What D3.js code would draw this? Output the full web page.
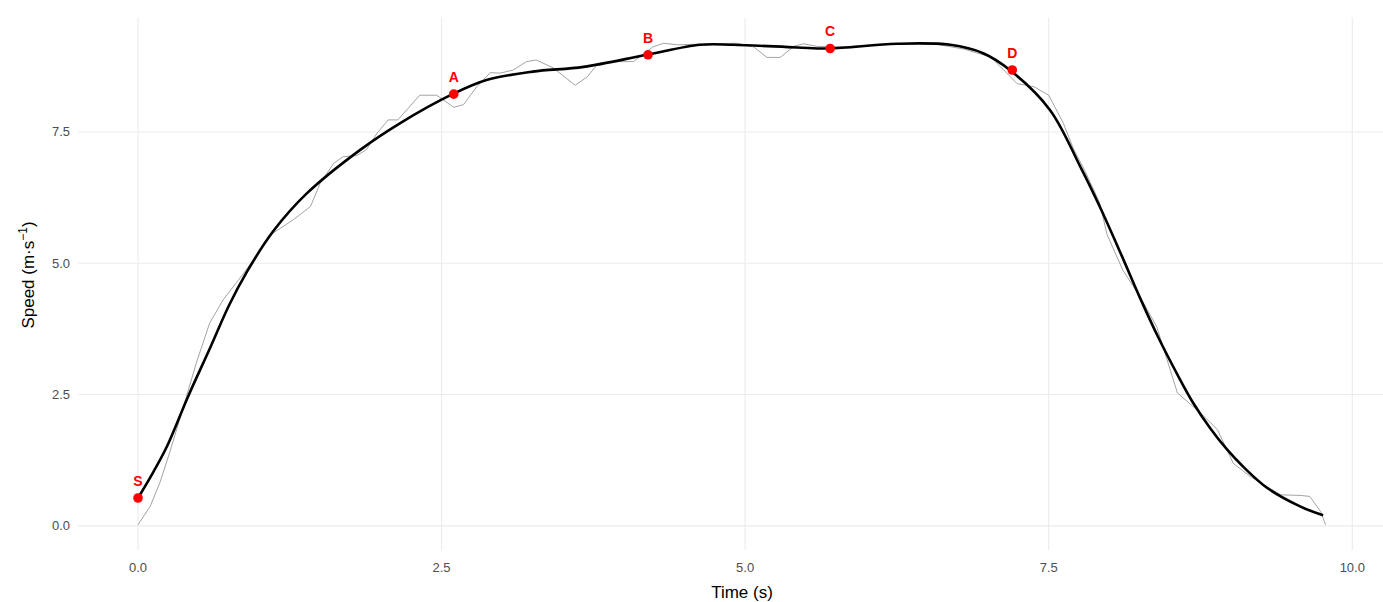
<!DOCTYPE html>
<html>
<head>
<meta charset="utf-8">
<script src="https://cdn.jsdelivr.net/npm/d3@7"></script>
<style>
  body { margin: 0; background: #fff; }
  text { font-family: "Liberation Sans", Arial, sans-serif; }
</style>
</head>
<body>
<div id="chart"></div>
<script>
// raw speed trace (thin grey line)
let rawTime = [0, 0.1, 0.18, 0.26, 0.35, 0.41, 0.48, 0.59, 0.70, 0.87, 1.0, 1.11, 1.28, 1.42, 1.50, 1.61, 1.69, 1.80, 1.88, 1.97,
  2.06, 2.14, 2.32, 2.46, 2.60, 2.68, 2.79, 2.90, 2.98, 3.09, 3.20, 3.28, 3.42, 3.60, 3.70, 3.78, 3.92, 4.08, 4.24, 4.33,
  4.44, 4.93, 5.07, 5.18, 5.29, 5.40, 5.48, 5.59, 5.8, 6.0, 6.2, 6.4, 6.6, 6.8, 7.02, 7.13, 7.24, 7.38, 7.50, 7.62,
  7.70, 7.80, 7.92, 7.98, 8.11, 8.25, 8.39, 8.56, 8.75, 8.89, 9.02, 9.16, 9.41, 9.57, 9.65, 9.74, 9.78];
let rawSpeed = [0.02, 0.37, 0.82, 1.39, 2.08, 2.55, 3.1, 3.86, 4.30, 4.81, 5.22, 5.57, 5.83, 6.08, 6.52, 6.90, 7.03, 7.05, 7.16, 7.48,
  7.73, 7.73, 8.20, 8.20, 7.97, 8.02, 8.36, 8.63, 8.62, 8.68, 8.84, 8.87, 8.72, 8.39, 8.55, 8.78, 8.84, 8.84, 9.12, 9.19,
  9.16, 9.19, 9.12, 8.92, 8.92, 9.13, 9.18, 9.13, 9.12, 9.15, 9.17, 9.19, 9.16, 9.08, 8.93, 8.68, 8.42, 8.36, 8.20, 7.67,
  7.20, 6.75, 6.15, 5.55, 4.87, 4.37, 3.79, 2.53, 2.15, 1.83, 1.19, 0.94, 0.59, 0.58, 0.56, 0.27, 0.02];

// fitted speed curve (thick black line)
let smoothTime = [0, 0.12, 0.24, 0.41, 0.6, 0.75, 0.9, 1.11, 1.39, 1.83, 2.16, 2.59, 2.87, 3.25, 3.67, 4.19, 4.63, 4.90, 5.43,
  5.69, 6.25, 6.69, 6.96, 7.18, 7.51, 7.76, 7.92, 8.1, 8.25, 8.4, 8.56, 8.69, 8.83, 8.97, 9.1, 9.30, 9.57, 9.76];
let smoothSpeed = [0.53, 1.0, 1.52, 2.45, 3.42, 4.2, 4.85, 5.6, 6.33, 7.16, 7.67, 8.22, 8.49, 8.65, 8.74, 8.97, 9.16, 9.16, 9.11,
  9.09, 9.18, 9.16, 9.0, 8.68, 7.92, 6.84, 6.08, 5.15, 4.35, 3.6, 2.88, 2.34, 1.86, 1.45, 1.13, 0.72, 0.37, 0.2];

// key points
let keyLabels = ["S", "A", "B", "C", "D"];
let keyTime = [0, 2.6, 4.2, 5.7, 7.2];
let keySpeed = [0.53, 8.22, 8.97, 9.09, 8.68];

let xTicks = [0, 2.5, 5, 7.5, 10];
let yTicks = [0, 2.5, 5, 7.5];

let width = 1383, height = 602;

let svg = d3.select("#chart").append("svg")
  .attr("width", width)
  .attr("height", height);

// panel limits with ggplot-style expansion
let x = d3.scaleLinear()
  .domain([-0.49, 10.29])
  .range([78.5, 1387.5]);
let y = d3.scaleLinear()
  .domain([-0.46, 9.68])
  .range([550, 17.5]);

// grid
svg.selectAll(".hgrid")
  .data(yTicks)
  .enter().append("line")
  .attr("class", "hgrid")
  .attr("x1", x.range()[0]).attr("x2", x.range()[1])
  .attr("y1", d => y(d)).attr("y2", d => y(d))
  .attr("stroke", "#ebebeb").attr("stroke-width", 1.1);

svg.selectAll(".vgrid")
  .data(xTicks)
  .enter().append("line")
  .attr("class", "vgrid")
  .attr("y1", y.range()[0]).attr("y2", y.range()[1])
  .attr("x1", d => x(d)).attr("x2", d => x(d))
  .attr("stroke", "#ebebeb").attr("stroke-width", 1.1);

// tick labels
let fmt = d3.format(".1f");
svg.selectAll(".xlab")
  .data(xTicks)
  .enter().append("text")
  .attr("class", "xlab")
  .attr("x", d => x(d))
  .attr("y", 572)
  .attr("text-anchor", "middle")
  .attr("font-size", 13)
  .attr("fill", "#4d4d4d")
  .text(d => fmt(d));

svg.selectAll(".ylab")
  .data(yTicks)
  .enter().append("text")
  .attr("class", "ylab")
  .attr("x", 70)
  .attr("y", d => y(d) + 4.5)
  .attr("text-anchor", "end")
  .attr("font-size", 13)
  .attr("fill", "#4d4d4d")
  .text(d => fmt(d));

// axis titles
svg.append("text")
  .attr("x", 742)
  .attr("y", 598)
  .attr("text-anchor", "middle")
  .attr("font-size", 17)
  .attr("fill", "#000")
  .text("Time (s)");

let yt = svg.append("text")
  .attr("transform", "translate(34," + 275 + ") rotate(-90)")
  .attr("text-anchor", "middle")
  .attr("font-size", 17)
  .attr("fill", "#000");
yt.append("tspan").text("Speed (m·s");
yt.append("tspan").attr("dy", -7).attr("font-size", 12).text("−1");
yt.append("tspan").attr("dy", 7).text(")");

let line = d3.line()
  .x(d => x(d[0]))
  .y(d => y(d[1]));

// raw trace
svg.append("path")
  .datum(rawTime.map((t, i) => [t, rawSpeed[i]]))
  .attr("d", line)
  .attr("fill", "none")
  .attr("stroke", "#8c8c8c")
  .attr("stroke-width", 0.8);

// smooth trace
svg.append("path")
  .datum(smoothTime.map((t, i) => [t, smoothSpeed[i]]))
  .attr("d", line.curve(d3.curveCatmullRom.alpha(0.5)))
  .attr("fill", "none")
  .attr("stroke", "#000")
  .attr("stroke-width", 2.6);

// key points
let keys = keyLabels.map((l, i) => ({ label: l, t: keyTime[i], v: keySpeed[i] }));

svg.selectAll(".keypt")
  .data(keys)
  .enter().append("circle")
  .attr("class", "keypt")
  .attr("cx", d => x(d.t))
  .attr("cy", d => y(d.v))
  .attr("r", 4.8)
  .attr("fill", "#ff0000");

svg.selectAll(".keylab")
  .data(keys)
  .enter().append("text")
  .attr("class", "keylab")
  .attr("x", d => x(d.t))
  .attr("y", d => y(d.v) - 12)
  .attr("text-anchor", "middle")
  .attr("font-size", 14)
  .attr("font-weight", "bold")
  .attr("fill", "#ff0000")
  .text(d => d.label);
</script>
</body>
</html>
